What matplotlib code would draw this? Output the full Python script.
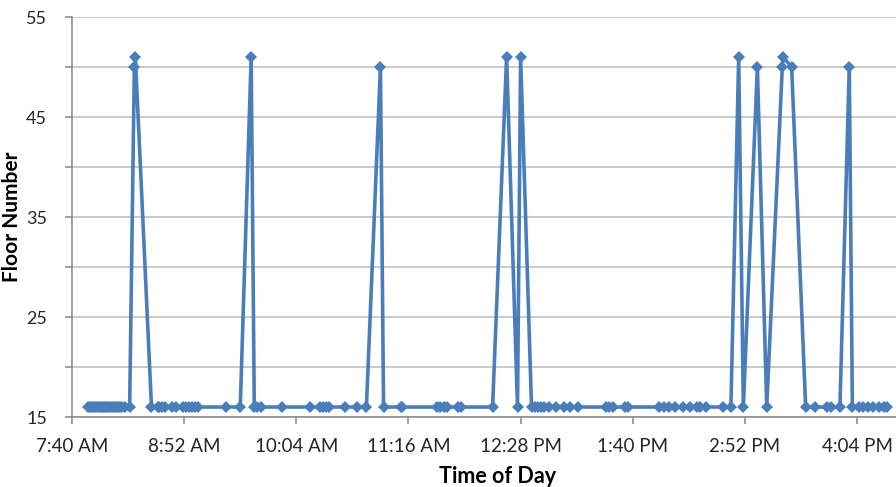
import matplotlib
matplotlib.use("Agg")
import matplotlib.pyplot as plt
import matplotlib.dates as mdates
import pandas as pd

plt.rcParams["font.family"] = ["Lato", "DejaVu Sans"]

# time of each reading and the floor it was taken on
times = [
    "7:50", "7:51", "7:52", "7:53", "7:54", "7:55", "7:56", "7:57", "7:58", "7:59",
    "8:00", "8:01", "8:02", "8:03", "8:04", "8:05", "8:06", "8:07", "8:08", "8:09",
    "8:10", "8:11", "8:12", "8:14", "8:17", "8:20", "8:20:40", "8:31", "8:35", "8:36",
    "8:38", "8:40", "8:44", "8:47", "8:51", "8:53", "8:55", "8:57", "8:59", "9:01",
    "9:19", "9:28", "9:35", "9:37", "9:39", "9:41", "9:55", "10:13", "10:19", "10:21",
    "10:23", "10:25", "10:35", "10:43", "10:49", "10:58", "11:00", "11:11", "11:12", "11:34",
    "11:36", "11:39", "11:41", "11:48", "11:50", "12:10", "12:19", "12:26", "12:28", "12:35",
    "12:37", "12:39", "12:41", "12:43", "12:46", "12:51", "12:56", "13:00", "13:05", "13:23",
    "13:25", "13:27", "13:35", "13:37", "13:57", "14:00", "14:03", "14:07", "14:12", "14:17",
    "14:21", "14:23", "14:27", "14:38", "14:43", "14:48", "14:51", "15:00", "15:06", "15:16",
    "15:16:30", "15:22", "15:31", "15:37", "15:45", "15:47", "15:53", "15:59", "16:01", "16:05",
    "16:08", "16:11", "16:14", "16:18", "16:21", "16:23",
]
floors = [
    16, 16, 16, 16, 16, 16, 16, 16, 16, 16,
    16, 16, 16, 16, 16, 16, 16, 16, 16, 16,
    16, 16, 16, 16, 16, 50, 51, 16, 16, 16,
    16, 16, 16, 16, 16, 16, 16, 16, 16, 16,
    16, 16, 51, 16, 16, 16, 16, 16, 16, 16,
    16, 16, 16, 16, 16, 50, 16, 16, 16, 16,
    16, 16, 16, 16, 16, 16, 51, 16, 51, 16,
    16, 16, 16, 16, 16, 16, 16, 16, 16, 16,
    16, 16, 16, 16, 16, 16, 16, 16, 16, 16,
    16, 16, 16, 16, 16, 51, 16, 50, 16, 50,
    51, 50, 16, 16, 16, 16, 16, 50, 16, 16,
    16, 16, 16, 16, 16, 16,
]
x_start = "7:40"
x_end = "16:29"

day = "2010-01-01 "
t = pd.to_datetime([day + s for s in times], format="mixed")

fig = plt.figure(figsize=(8.96, 4.87), dpi=100)
ax = fig.add_axes([0.0804, 0.1437, 0.9196, 0.8213])

ax.plot(t, floors, color="#4a7ebb", lw=2.6, marker="D", markersize=6,
        markeredgewidth=0, zorder=3)

ax.set_xlim(pd.Timestamp(day + x_start), pd.Timestamp(day + x_end))
ax.set_ylim(15, 55)
ax.set_yticks([15, 25, 35, 45, 55])
ax.set_yticks([20, 30, 40, 50], minor=True)
ticks = pd.date_range(day + x_start, periods=8, freq="72min")
ax.set_xticks(ticks)
ax.xaxis.set_major_formatter(mdates.DateFormatter("%-I:%M %p"))

ax.grid(True, which="both", axis="y", color="#bcbcbc", lw=1.1)
ax.set_axisbelow(True)
for s in ["top", "right"]:
    ax.spines[s].set_visible(False)
for s in ["left", "bottom"]:
    ax.spines[s].set_color("#868686")
    ax.spines[s].set_linewidth(1.1)

ax.tick_params(axis="both", which="both", color="#868686", length=5, width=1.1,
               labelsize=13.5, labelcolor="#262626")
ax.tick_params(axis="y", labelsize=13, pad=13)
ax.tick_params(axis="x", pad=10)

ax.set_xlabel("Time of Day", fontsize=15.5, fontweight="bold")
ax.set_ylabel("Floor Number", fontsize=15, fontweight="bold")
ax.xaxis.set_label_coords(0.517, -0.122)
ax.yaxis.set_label_coords(-0.061, 0.5)

fig.savefig("out.png", dpi=100)
